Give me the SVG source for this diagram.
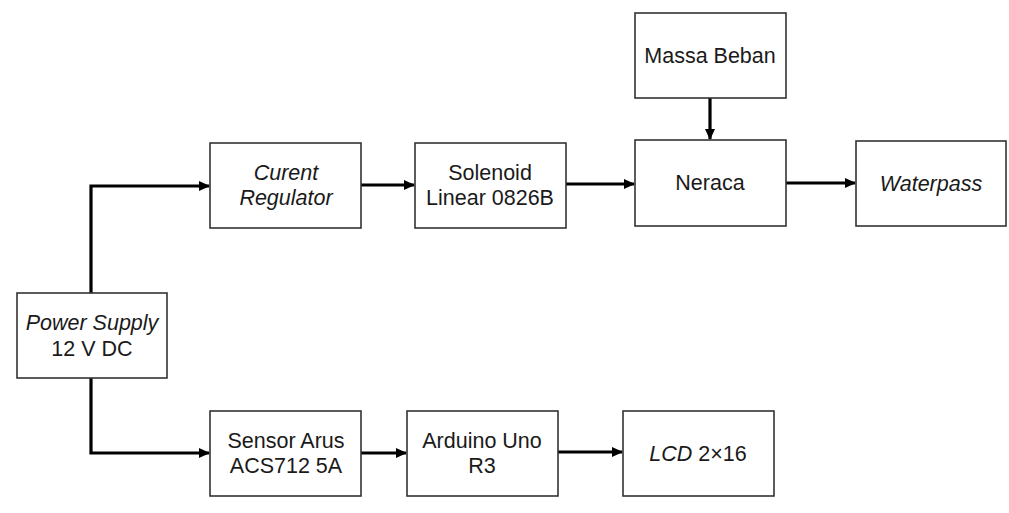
<svg xmlns="http://www.w3.org/2000/svg" width="1009" height="513" viewBox="0 0 1009 513">
<style>
.box{fill:#fff;stroke:#333;stroke-width:1.6}
.t{font-family:"Liberation Sans",Arial,sans-serif;font-size:21.5px;fill:#1a1a1a;text-anchor:middle}
.i{font-style:italic}
.c{fill:none;stroke:#000;stroke-width:3.2}
</style>
<defs>
<marker id="ah" markerWidth="12" markerHeight="12" refX="10" refY="5" orient="auto" markerUnits="userSpaceOnUse">
<path d="M0,0 L11,5 L0,10 Z" fill="#000"/>
</marker>
</defs>
<rect width="1009" height="513" fill="#fff"/>
<g id="connectors">
<path class="c" d="M91,293 V186 H209" marker-end="url(#ah)"/>
<path class="c" d="M91,378 V453 H209" marker-end="url(#ah)"/>
<path class="c" d="M361,185 H414" marker-end="url(#ah)"/>
<path class="c" d="M566,184 H634" marker-end="url(#ah)"/>
<path class="c" d="M710,98 V139" marker-end="url(#ah)"/>
<path class="c" d="M786,183 H855" marker-end="url(#ah)"/>
<path class="c" d="M361,453 H406" marker-end="url(#ah)"/>
<path class="c" d="M558,452 H622" marker-end="url(#ah)"/>
</g>
<g id="power-supply">
<rect class="box" x="17" y="293" width="150" height="85"/>
<text class="t i" x="92" y="330">Power Supply</text>
<text class="t" x="92" y="356">12 V DC</text>
</g>
<g id="current-regulator">
<rect class="box" x="210" y="143" width="151" height="85"/>
<text class="t i" x="286" y="180">Curent</text>
<text class="t i" x="286" y="205">Regulator</text>
</g>
<g id="solenoid">
<rect class="box" x="415" y="143" width="151" height="85"/>
<text class="t" x="490" y="180">Solenoid</text>
<text class="t" x="490" y="205">Linear 0826B</text>
</g>
<g id="massa-beban">
<rect class="box" x="635" y="13" width="151" height="85"/>
<text class="t" x="710" y="63">Massa Beban</text>
</g>
<g id="neraca">
<rect class="box" x="635" y="140" width="151" height="86"/>
<text class="t" x="710" y="190">Neraca</text>
</g>
<g id="waterpass">
<rect class="box" x="856" y="141" width="150" height="85"/>
<text class="t i" x="931" y="191">Waterpass</text>
</g>
<g id="sensor-arus">
<rect class="box" x="210" y="411" width="151" height="85"/>
<text class="t" x="286" y="448">Sensor Arus</text>
<text class="t" x="286" y="473">ACS712 5A</text>
</g>
<g id="arduino">
<rect class="box" x="407" y="411" width="151" height="85"/>
<text class="t" x="482" y="448">Arduino Uno</text>
<text class="t" x="482" y="473">R3</text>
</g>
<g id="lcd">
<rect class="box" x="623" y="411" width="151" height="85"/>
<text class="t" x="698" y="461"><tspan class="i">LCD</tspan> 2×16</text>
</g>
</svg>
